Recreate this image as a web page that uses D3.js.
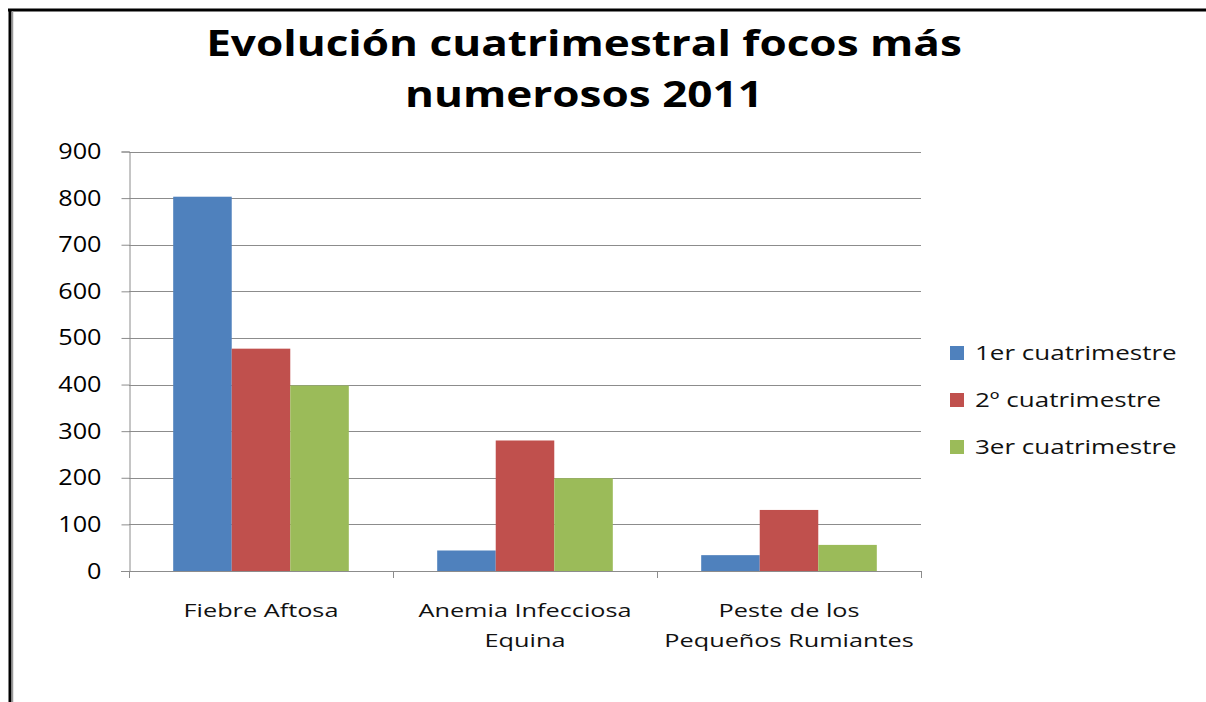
<!DOCTYPE html>
<html><head><meta charset="utf-8">
<script src="https://cdn.jsdelivr.net/npm/d3@7"></script>
<style>body{margin:0;background:#fff}svg{display:block}</style>
</head><body>
<svg id="c" width="1206" height="702"></svg>
<script>
const categories = [["Fiebre Aftosa"], ["Anemia Infecciosa","Equina"], ["Peste de los","Pequeños Rumiantes"]];
const seriesNames = ["1er cuatrimestre", "2º cuatrimestre", "3er cuatrimestre"];
const s1 = [803, 44, 34];
const s2 = [477, 280, 131];
const s3 = [398, 199, 56];
const yTicks = [0,100,200,300,400,500,600,700,800,900];
const colors = ["#4F81BD", "#C0504D", "#9BBB59"];
const titleLines = ["Evolución cuatrimestral focos más", "numerosos 2011"];

const svg = d3.select("#c");
const font = "'Open Sans', sans-serif";
function stretch(sx){ return function(sel, x, y){ sel.attr("transform", `translate(${x},${y}) scale(${sx},1)`).attr("x",0).attr("y",0); }; }

// frame
svg.append("line").attr("x1",8).attr("x2",1206).attr("y1",10).attr("y2",10).attr("stroke","#000").attr("stroke-width",3);
svg.append("line").attr("x1",10).attr("x2",10).attr("y1",9).attr("y2",702).attr("stroke","#000").attr("stroke-width",3);
svg.append("line").attr("x1",12.5).attr("x2",12.5).attr("y1",11).attr("y2",702).attr("stroke","#999").attr("stroke-width",1.5);

// title
titleLines.forEach((t,i)=>{
  svg.append("text").text(t).attr("font-family",font).attr("font-weight",700).attr("font-size",35)
    .attr("text-anchor","middle").attr("fill","#000").call(stretch(1.26), 584, 56+i*51);
});

const x0 = d3.scaleBand().domain(d3.range(categories.length)).range([129,921]).paddingInner(0).paddingOuter(0);
const x1 = d3.scaleBand().domain(d3.range(seriesNames.length)).range([0,x0.bandwidth()]).paddingInner(0).paddingOuter(0.755);
const y = d3.scaleLinear().domain([0,900]).range([571,151.5]);

// gridlines
svg.append("g").selectAll("line").data(yTicks.slice(1)).join("line")
  .attr("x1",129).attr("x2",921).attr("y1",d=>Math.round(y(d))+0.5).attr("y2",d=>Math.round(y(d))+0.5)
  .attr("stroke","#8c8c8c").attr("stroke-width",1);

// y axis
const yAx = svg.append("g").attr("transform","translate(129.5,0)").call(d3.axisLeft(y).tickValues(yTicks).tickSize(8).tickPadding(0));
yAx.select(".domain").attr("stroke","#8c8c8c");
yAx.selectAll(".tick line").attr("stroke","#8c8c8c");
yAx.selectAll(".tick text").text(d=>d).attr("font-family",font).attr("font-size",21).attr("fill","#000")
  .attr("text-anchor","end").attr("dy",null)
  .each(function(){ d3.select(this).attr("transform",`translate(-28,7) scale(1.2,1)`).attr("x",0).attr("y",0); });

// bars
const data = [s1,s2,s3];
data.forEach((s,si)=>{
  svg.append("g").selectAll("rect").data(s).join("rect")
    .attr("x",(d,ci)=>x0(ci)+x1(si)).attr("width",x1.bandwidth())
    .attr("y",d=>y(d)).attr("height",d=>y(0)-y(d)).attr("fill",colors[si]);
});

// x axis
svg.append("line").attr("x1",121).attr("x2",921).attr("y1",571.5).attr("y2",571.5).attr("stroke","#8c8c8c");
const xt = d3.range(categories.length+1).map(i=>129+i*x0.bandwidth());
svg.append("g").selectAll("line").data(xt).join("line")
  .attr("x1",d=>Math.round(d)+0.5).attr("x2",d=>Math.round(d)+0.5).attr("y1",571).attr("y2",578).attr("stroke","#8c8c8c");

// category labels
categories.forEach((lines,ci)=>{
  lines.forEach((l,li)=>{
    svg.append("text").text(l).attr("font-family",font).attr("font-size",19).attr("fill","#111")
      .attr("text-anchor","middle").call(stretch(1.33), x0(ci)+x0.bandwidth()/2, 617+li*30);
  });
});

// legend
seriesNames.forEach((n,i)=>{
  const ly = 353 + i*47;
  svg.append("rect").attr("x",950).attr("y",ly-7).attr("width",14).attr("height",14).attr("fill",colors[i]);
  svg.append("text").text(n).attr("font-family",font).attr("font-size",20).attr("fill","#111")
    .call(stretch(1.3), 975, ly+7);
});
</script>
</body></html>
